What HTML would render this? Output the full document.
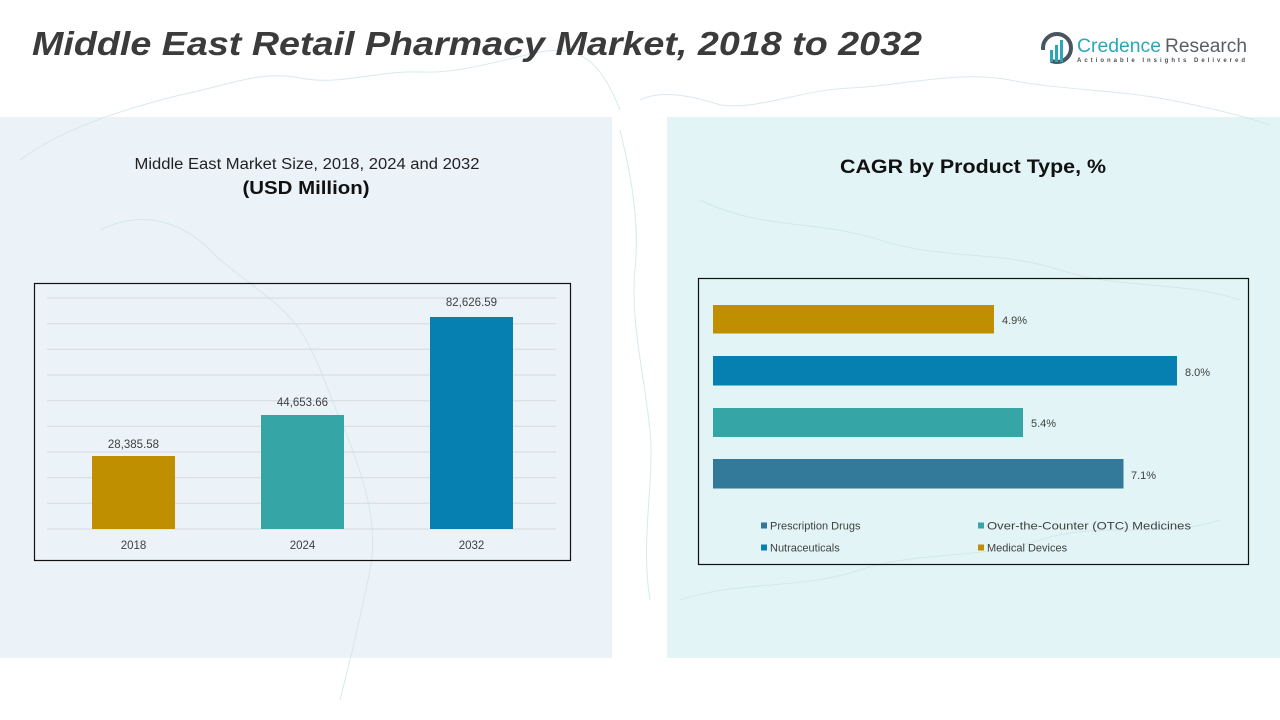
<!DOCTYPE html>
<html>
<head>
<meta charset="utf-8">
<style>
  html,body{margin:0;padding:0;background:#ffffff;}
  svg{display:block;}
  text{font-family:"Liberation Sans","DejaVu Sans",sans-serif;}
</style>
</head>
<body>
<svg width="1280" height="720" viewBox="0 0 1280 720" xmlns="http://www.w3.org/2000/svg">
  <rect x="0" y="0" width="1280" height="720" fill="#ffffff"/>

  <!-- panels -->
  <rect x="0" y="117" width="612" height="541" fill="#EBF3F9"/>
  <rect x="667" y="117" width="613" height="541" fill="#E2F4F5"/>

  <!-- faint map outlines -->
  <g fill="none" stroke="#cfe3ea" stroke-width="1" opacity="0.8">
    <path d="M20 160 C60 130,120 110,180 95 C230 85,260 70,300 78 C340 86,380 70,420 72 C460 74,500 60,540 52 C580 45,600 60,620 110"/>
    <path d="M100 230 C140 210,180 220,210 250 C240 280,280 300,300 330 C320 360,330 400,345 430 C360 470,380 520,370 570 C360 620,350 660,340 700"/>
    <path d="M640 100 C660 90,690 95,720 105 C760 110,800 90,850 88 C900 86,960 70,1010 80 C1060 90,1120 90,1170 100 C1210 108,1240 115,1270 125"/>
    <path d="M620 130 C630 170,640 220,635 270 C630 320,645 380,650 430 C655 480,640 540,650 600"/>
    <path d="M700 200 C760 230,820 220,880 240 C940 260,1000 250,1060 270 C1120 290,1180 280,1240 300"/>
    <path d="M680 600 C740 580,800 590,860 570 C920 550,980 560,1040 540 C1100 520,1160 540,1220 520"/>
  </g>

  <!-- title -->
  <text x="32" y="55" font-size="33" font-weight="bold" font-style="italic" fill="#3b3b3b" textLength="890" lengthAdjust="spacingAndGlyphs">Middle East Retail Pharmacy Market, 2018 to 2032</text>

  <!-- logo -->
  <g>
    <circle cx="1057" cy="48" r="14" fill="none" stroke="#4a5560" stroke-width="4"/>
    <rect x="1040" y="50" width="10" height="16" fill="#ffffff"/>
    <rect x="1050" y="50" width="3" height="12" fill="#2aa7b8"/>
    <rect x="1055" y="45" width="3" height="17" fill="#2aa7b8"/>
    <rect x="1060" y="40" width="3" height="22" fill="#2aa7b8"/>
    <text x="1077" y="52" font-size="19" fill="#2aa7b8" textLength="84" lengthAdjust="spacingAndGlyphs">Credence</text>
    <text x="1165" y="52" font-size="19" fill="#5a5f66" textLength="82" lengthAdjust="spacingAndGlyphs">Research</text>
    <text x="1077" y="62" font-size="6" font-weight="bold" fill="#4a4f55" textLength="168" lengthAdjust="spacing">Actionable Insights Delivered</text>
  </g>

  <!-- left panel titles -->
  <text x="307" y="169" font-size="15.5" fill="#222" text-anchor="middle" textLength="345" lengthAdjust="spacingAndGlyphs">Middle East Market Size, 2018, 2024 and 2032</text>
  <text x="306" y="194" font-size="18" font-weight="bold" fill="#111" text-anchor="middle" textLength="127" lengthAdjust="spacingAndGlyphs">(USD Million)</text>

  <!-- left chart box -->
  <rect x="34.5" y="283.5" width="536" height="277" fill="none" stroke="#111" stroke-width="1.2"/>
  <g stroke="#d6dade" stroke-width="1">
    <line x1="47" y1="298" x2="556" y2="298"/>
    <line x1="47" y1="323.7" x2="556" y2="323.7"/>
    <line x1="47" y1="349.3" x2="556" y2="349.3"/>
    <line x1="47" y1="375" x2="556" y2="375"/>
    <line x1="47" y1="400.7" x2="556" y2="400.7"/>
    <line x1="47" y1="426.3" x2="556" y2="426.3"/>
    <line x1="47" y1="452" x2="556" y2="452"/>
    <line x1="47" y1="477.7" x2="556" y2="477.7"/>
    <line x1="47" y1="503.3" x2="556" y2="503.3"/>
    <line x1="47" y1="529" x2="556" y2="529"/>
  </g>
  <rect x="92" y="456" width="83" height="73" fill="#BF8F00"/>
  <rect x="261" y="415" width="83" height="114" fill="#35A5A5"/>
  <rect x="430" y="317" width="83" height="212" fill="#0580B0"/>
  <g font-size="11.5" fill="#404040" text-anchor="middle">
    <text x="133.5" y="448">28,385.58</text>
    <text x="302.5" y="406">44,653.66</text>
    <text x="471.5" y="306">82,626.59</text>
    <text x="133.5" y="549">2018</text>
    <text x="302.5" y="549">2024</text>
    <text x="471.5" y="549">2032</text>
  </g>

  <!-- right panel title -->
  <text x="973" y="173" font-size="19" font-weight="bold" fill="#111" text-anchor="middle" textLength="266" lengthAdjust="spacingAndGlyphs">CAGR by Product Type, %</text>

  <!-- right chart box -->
  <rect x="698.5" y="278.5" width="550" height="286" fill="none" stroke="#111" stroke-width="1.2"/>
  <rect x="713" y="305" width="281" height="28.5" fill="#BF8F00"/>
  <rect x="713" y="356" width="464" height="29.5" fill="#0580B0"/>
  <rect x="713" y="408" width="310" height="29" fill="#35A5A5"/>
  <rect x="713" y="459" width="410.5" height="29.5" fill="#337A9A"/>
  <g font-size="11" fill="#404040">
    <text x="1002" y="324">4.9%</text>
    <text x="1185" y="376">8.0%</text>
    <text x="1031" y="427">5.4%</text>
    <text x="1131" y="479">7.1%</text>
  </g>

  <!-- legend -->
  <g font-size="11" fill="#404040">
    <rect x="761" y="522.5" width="6" height="6" fill="#337A9A"/>
    <text x="770" y="529.5">Prescription Drugs</text>
    <rect x="978" y="522.5" width="6" height="6" fill="#35A5A5"/>
    <text x="987" y="529.5" textLength="204" lengthAdjust="spacingAndGlyphs">Over-the-Counter (OTC) Medicines</text>
    <rect x="761" y="544.5" width="6" height="6" fill="#0580B0"/>
    <text x="770" y="551.5">Nutraceuticals</text>
    <rect x="978" y="544.5" width="6" height="6" fill="#BF8F00"/>
    <text x="987" y="551.5">Medical Devices</text>
  </g>
</svg>
</body>
</html>
